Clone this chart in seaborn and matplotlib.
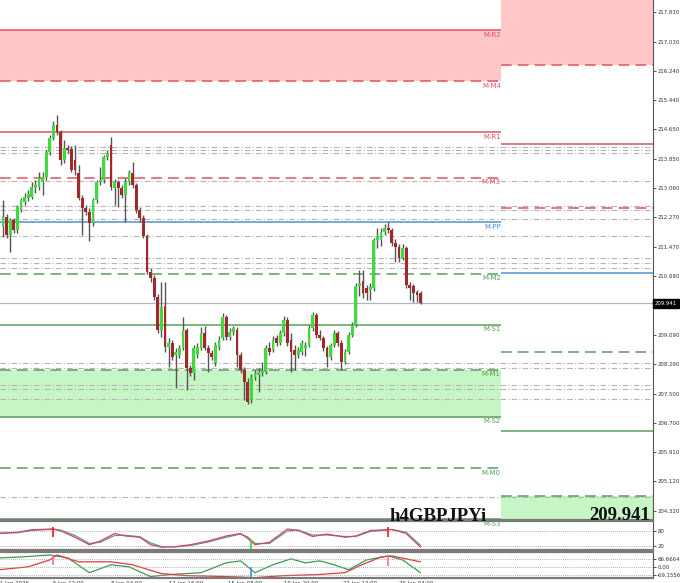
import numpy as np
import pandas as pd
import matplotlib
matplotlib.use('Agg')
import matplotlib.pyplot as plt
import matplotlib.transforms as mtransforms
import seaborn as sns

sns.set_style("white")
plt.rcParams['font.family'] = ['DejaVu Sans']

# ---- H4 GBPJPY candles ----
opens = [212.01, 212.28, 211.79, 212.20, 211.93, 212.47, 212.69, 212.79, 212.82, 213.07,
         213.09, 213.23, 213.36, 214.04, 214.42, 214.77, 214.58, 213.82, 214.15, 214.12,
         213.82, 213.47, 212.79, 212.52, 212.42, 212.12, 212.74, 213.23, 213.28, 213.91,
         214.23, 213.07, 213.23, 213.07, 212.88, 213.23, 213.47, 213.15, 212.47, 212.25,
         211.77, 210.79, 210.63, 210.11, 209.22, 209.87, 208.76, 208.87, 208.54, 208.54,
         208.73, 209.22, 208.19, 208.06, 208.54, 208.73, 209.14, 208.73, 208.60, 208.33,
         208.76, 209.00, 209.57, 209.03, 209.17, 209.22, 208.54, 208.14, 207.81, 207.33,
         207.95, 208.00, 208.06, 208.08, 208.73, 208.68, 209.00, 208.87, 209.14, 209.49,
         208.95, 208.68, 208.54, 208.63, 208.73, 208.81, 209.28, 209.63, 209.09, 209.00,
         208.73, 208.49, 208.81, 209.14, 208.87, 208.36, 208.63, 209.09, 209.36, 210.41,
         210.55, 210.36, 210.30, 210.36, 211.66, 211.66, 211.87, 211.98, 211.93, 211.58,
         211.47, 211.17, 211.44, 210.44, 210.41, 210.25, 210.22]
closes = [212.28, 211.79, 212.20, 211.93, 212.55, 212.74, 212.82, 212.90, 213.09, 213.15,
          213.34, 213.36, 214.04, 214.42, 214.77, 214.58, 213.82, 214.15, 214.09, 213.55,
          213.55, 212.79, 212.52, 212.42, 212.12, 212.74, 213.23, 213.28, 213.91, 214.01,
          213.09, 213.23, 213.07, 212.88, 213.23, 213.47, 213.15, 212.47, 212.25, 211.77,
          210.79, 210.63, 210.11, 209.22, 209.84, 208.76, 208.87, 208.49, 208.63, 208.73,
          209.22, 208.19, 208.06, 208.73, 208.76, 209.14, 208.73, 208.60, 208.49, 208.81,
          208.95, 209.57, 209.03, 209.17, 209.28, 208.54, 208.14, 207.81, 207.27, 207.95,
          208.06, 208.08, 208.11, 208.73, 208.63, 208.95, 208.87, 209.14, 209.49, 208.87,
          208.63, 208.54, 208.68, 208.87, 208.81, 209.28, 209.63, 209.09, 209.00, 208.73,
          208.49, 208.81, 209.14, 208.87, 208.36, 208.63, 209.09, 209.36, 210.41, 210.49,
          210.22, 210.22, 210.39, 211.66, 211.77, 211.87, 211.98, 211.93, 211.58, 211.47,
          211.17, 211.44, 210.44, 210.36, 210.22, 210.17, 209.94]
highs = [212.74, 212.36, 212.25, 212.25, 212.61, 212.79, 212.93, 213.01, 213.23, 213.28,
         213.50, 213.50, 214.09, 214.50, 214.88, 215.04, 214.64, 214.37, 214.23, 214.20,
         214.23, 213.69, 212.88, 212.61, 212.52, 212.79, 213.28, 213.63, 213.96, 214.09,
         214.45, 213.31, 213.28, 213.15, 213.34, 213.55, 213.77, 213.20, 212.55, 212.33,
         211.82, 210.90, 210.71, 210.20, 210.52, 210.52, 209.00, 208.95, 208.73, 208.81,
         209.57, 209.28, 208.27, 208.81, 208.87, 209.30, 209.33, 208.81, 208.68, 208.90,
         209.06, 209.68, 209.63, 209.28, 209.33, 209.30, 208.63, 208.22, 207.92, 208.03,
         208.14, 208.19, 208.36, 208.81, 208.90, 209.06, 209.09, 209.22, 209.60, 209.57,
         209.14, 208.81, 208.76, 208.95, 208.90, 209.36, 209.71, 209.68, 209.22, 209.06,
         208.79, 208.87, 209.22, 209.19, 208.95, 208.71, 209.17, 209.44, 210.49, 210.85,
         210.85, 210.44, 210.49, 211.71, 211.98, 211.98, 212.09, 212.15, 211.98, 211.68,
         211.55, 211.55, 211.50, 210.52, 210.47, 210.30, 210.28]
lows = [211.74, 211.71, 211.33, 211.85, 211.85, 212.42, 212.61, 212.71, 212.77, 212.93,
        213.01, 212.88, 213.28, 213.96, 214.37, 214.50, 213.69, 213.74, 214.01, 213.50,
        213.42, 212.74, 211.79, 212.33, 211.63, 212.04, 212.66, 213.15, 213.20, 213.82,
        213.01, 212.61, 212.55, 212.79, 212.15, 213.15, 213.07, 212.39, 212.15, 211.71,
        210.74, 210.52, 210.03, 209.14, 209.03, 208.63, 208.22, 208.41, 207.65, 208.46,
        208.68, 207.60, 207.98, 207.87, 208.46, 208.68, 208.68, 208.08, 208.41, 208.25,
        208.68, 208.95, 208.95, 208.95, 209.09, 208.22, 208.06, 207.33, 207.22, 207.24,
        207.87, 207.54, 207.98, 208.03, 208.54, 208.63, 208.79, 208.81, 209.06, 208.79,
        208.08, 208.14, 208.46, 208.54, 208.52, 208.76, 209.19, 209.00, 208.95, 208.65,
        208.22, 208.41, 208.76, 208.79, 208.14, 208.30, 208.57, 209.03, 209.30, 210.14,
        210.09, 210.03, 210.03, 210.28, 211.44, 211.50, 211.79, 211.85, 211.50, 211.06,
        211.06, 211.12, 210.36, 210.03, 209.98, 209.98, 209.92]
last_price = 209.941

# ---- monthly pivot levels ----
level_names = ["M-R2", "M-M4", "M-R1", "M-M3", "M-PP", "M-M2", "M-S1", "M-M1", "M-S2", "M-M0", "M-S3"]
month_levels = [217.34, 215.96, 214.58, 213.34, 212.14, 210.74, 209.36, 208.14, 206.87, 205.48, 204.10]
next_month_levels = [218.53, 216.40, 214.26, 212.52, 210.76, 208.63, 206.49, 204.73, 202.99]
grey_levels = [214.18, 214.09, 214.01, 213.26, 212.58, 212.47, 212.23, 211.77, 211.17,
               211.04, 210.90, 208.33, 208.19, 207.73, 207.62, 207.35, 204.70]
price_ticks = [217.830, 217.030, 216.240, 215.440, 214.650, 213.850, 213.060, 212.270,
               211.470, 210.680, 209.090, 208.290, 207.500, 206.700, 205.910, 205.120, 204.320]

# ---- oscillator panels (sampled points along the curves) ----
stoch_idx = [-1, 4, 8, 14, 16, 20, 24, 27, 31, 34, 38, 41, 44, 48, 52, 57, 62, 66, 68, 70,
             74, 79, 82, 86, 90, 95, 98, 102, 108, 112, 116]
stoch_k = [70, 75, 85, 88, 80, 55, 25, 40, 70, 60, 55, 25, 15, 18, 25, 40, 60, 70, 50, 25,
           35, 88, 82, 58, 68, 55, 60, 82, 86, 70, 15]
stoch_d = [72, 73, 82, 87, 84, 62, 30, 35, 62, 63, 57, 32, 18, 16, 22, 36, 55, 68, 56, 30,
           30, 80, 84, 64, 64, 58, 58, 78, 86, 75, 22]
osc_green_idx = [-1, 5, 13, 18, 24, 30, 35, 41, 46, 55, 62, 66, 70, 75, 80, 84, 88, 92, 96,
                 101, 107, 111, 116]
osc_green = [75, 83, 100, 75, -50, 17, 0, -83, -67, -50, 33, 50, -50, 17, 67, 33, 50, 17, -25,
             58, 92, 58, -50]
osc_red_idx = [-1, 7, 13, 15, 21, 30, 36, 44, 51, 62, 70, 78, 87, 95, 99, 105, 108, 116]
osc_red = [-25, 0, 58, 100, 42, 42, 17, -58, -75, -83, -92, -75, -67, -50, 8, 83, 92, 42]
signal_idx = [14, 69, 107]
osc2_levels = [66.6664, 0.0, -69.1556]
time_ticks = [-0.8, 14, 30, 46, 62.5, 78, 94.5, 110]
time_labels = ["1 Jan 2026", "5 Jan 12:00", "8 Jan 04:00", "12 Jan 16:00", "15 Jan 08:00",
               "19 Jan 20:00", "22 Jan 12:00", "26 Jan 04:00"]

RED = '#e0525c'
RED_FILL = '#ffc6c6'
GREEN = '#5a9e5a'
GREEN_FILL = '#c6f5c6'
BLUE = '#4f8fd6'
BULL = '#3ddc3d'
BEAR = '#a3282a'
TICK_FS = 3.9

W, H = 680, 583
fig = plt.figure(figsize=(W / 100, H / 100), dpi=100)
fig.patch.set_facecolor('white')
right = 653 / W
ax = fig.add_axes([0, 1 - 520 / H, right, 520 / H])
ax1 = fig.add_axes([0, 1 - 550 / H, right, 29 / H], sharex=ax)
ax2 = fig.add_axes([0, 1 - 578 / H, right, 26 / H], sharex=ax)
ax.set_zorder(3)

x_left, x_right = -0.83, 180.56
month_end = 138.3

# shaded zones, previous month
ax.fill_between([x_left, month_end], month_levels[1], month_levels[0], color=RED_FILL, lw=0, zorder=0)
ax.fill_between([x_left, month_end], month_levels[8], month_levels[7], color=GREEN_FILL, lw=0, zorder=0)
# next month
ax.fill_between([month_end, x_right], next_month_levels[1], next_month_levels[0], color=RED_FILL, lw=0, zorder=0)
ax.fill_between([month_end, x_right], next_month_levels[8], next_month_levels[7], color=GREEN_FILL, lw=0, zorder=0)

for lv in grey_levels:
    ax.axhline(lv, color='#b4b4b4', lw=0.8, ls=(0, (5, 2, 1, 2)), zorder=1)
ax.axhline(last_price, color='#aab4c6', lw=0.9, zorder=1)


def level_style(name):
    tag = name.split('-')[1]
    if tag == 'PP':
        return BLUE, '-'
    if tag.startswith('R'):
        return RED, '-'
    if tag.startswith('S'):
        return GREEN, '-'
    if tag in ('M3', 'M4'):
        return RED, (0, (7, 4))
    return GREEN, (0, (7, 4))


for name, lv in zip(level_names, month_levels):
    col, ls = level_style(name)
    ax.hlines(lv, x_left, month_end, color=col, lw=1.1, ls=ls, zorder=2)
    ax.text(month_end, lv - 0.04, name, color=col, fontsize=5, ha='right', va='top',
            zorder=4, clip_on=False)
for name, lv in zip(level_names, next_month_levels):
    col, ls = level_style(name)
    ax.hlines(lv, month_end, x_right, color=col, lw=1.1, ls=ls, zorder=2)

# candles
df = pd.DataFrame({'open': opens, 'high': highs, 'low': lows, 'close': closes})
df['idx'] = np.arange(len(df))
up = df['close'] >= df['open']
ax.vlines(df['idx'], df['low'], df['high'], color='#555555', lw=1.0, zorder=3)
body_h = (df['close'] - df['open']).abs().clip(lower=0.02)
ax.bar(df['idx'], body_h, bottom=df[['open', 'close']].min(axis=1), width=0.8,
       color=np.where(up, BULL, BEAR), linewidth=0, zorder=4)

ax.set_xlim(x_left, x_right)
ax.set_ylim(204.077, 218.155)
ax.yaxis.tick_right()
ax.set_yticks(price_ticks)
ax.set_yticklabels([f'{t:.3f}' for t in price_ticks])
ax.tick_params(axis='y', labelsize=TICK_FS, length=2, width=0.6, pad=1, colors='#333333')
ax.tick_params(axis='x', bottom=False, labelbottom=False)
blend = mtransforms.blended_transform_factory(ax.transAxes, ax.transData)
ax.text(1.003, last_price, f'{last_price:.3f}', transform=blend, fontsize=TICK_FS, color='white',
        ha='left', va='center', clip_on=False, zorder=6,
        bbox=dict(boxstyle='square,pad=0.3', fc='black', ec='black'))

# stochastic panel
sns.lineplot(x=stoch_idx, y=stoch_d, ax=ax1, color='#5aa06a', lw=0.9)
sns.lineplot(x=stoch_idx, y=stoch_k, ax=ax1, color='#d8407a', lw=0.9)
for lv in (80, 20):
    ax1.axhline(lv, color='#9a9a9a', lw=0.6, ls=(0, (1, 1.5)))
ax1.vlines(signal_idx[0], 55, 97, color='#e02020', lw=1.2)
ax1.vlines(signal_idx[1], 8, 45, color='#33dd33', lw=1.2)
ax1.vlines(signal_idx[2], 55, 97, color='#e02020', lw=1.2)
ax1.set_ylim(4, 120)
ax1.yaxis.tick_right()
ax1.set_yticks([80, 20])
ax1.set_yticklabels(['80', '20'])

# second oscillator panel
sns.lineplot(x=osc_green_idx, y=osc_green, ax=ax2, color='#3c9a5a', lw=0.9)
sns.lineplot(x=osc_red_idx, y=osc_red, ax=ax2, color='#e03c3c', lw=0.9)
for lv in osc2_levels:
    ax2.axhline(lv, color='#9a9a9a', lw=0.6, ls=(0, (1, 1.5)))
ax2.vlines(signal_idx[0], 17, 100, color='#ff66aa', lw=1.2)
ax2.vlines(signal_idx[1], -92, 0, color='#3a8ee6', lw=1.2)
ax2.vlines(signal_idx[2], 8, 92, color='#ff66aa', lw=1.2)
ax2.set_ylim(-95, 125)
ax2.yaxis.tick_right()
ax2.set_yticks(osc2_levels)
ax2.set_yticklabels(['66.6664', '0.00', '-69.1556'])

for a in (ax1, ax2):
    a.tick_params(axis='y', labelsize=TICK_FS, length=2, width=0.6, pad=1, colors='#333333')
    a.set_xlabel('')
    a.set_ylabel('')
ax1.tick_params(axis='x', bottom=False, labelbottom=False)
ax2.set_xticks(time_ticks)
ax2.set_xticklabels(time_labels, ha='left')
ax2.tick_params(axis='x', labelsize=TICK_FS, length=2, width=0.6, pad=0.5, colors='#333333')

for a in (ax, ax1, ax2):
    a.set_facecolor('white')
    a.spines['left'].set_visible(False)
    a.spines['right'].set_color('#555555')
    a.spines['right'].set_linewidth(0.8)
    for s in ('top', 'bottom'):
        a.spines[s].set_color('#7a7a7a')
        a.spines[s].set_linewidth(1.6)
ax.spines['top'].set_visible(False)
ax.set_ylabel('')

# symbol and last price captions
fig.text(487 / W, 1 - 521 / H, 'h4GBPJPYi', ha='right', va='baseline', fontsize=13.5,
         fontweight='bold', family='Liberation Serif', color='#111111', zorder=10)
fig.text(650 / W, 1 - 520 / H, f'{last_price:.3f}', ha='right', va='baseline', fontsize=13.5,
         fontweight='bold', family='Liberation Serif', color='#111111', zorder=10)

fig.savefig('out.png', dpi=100)
